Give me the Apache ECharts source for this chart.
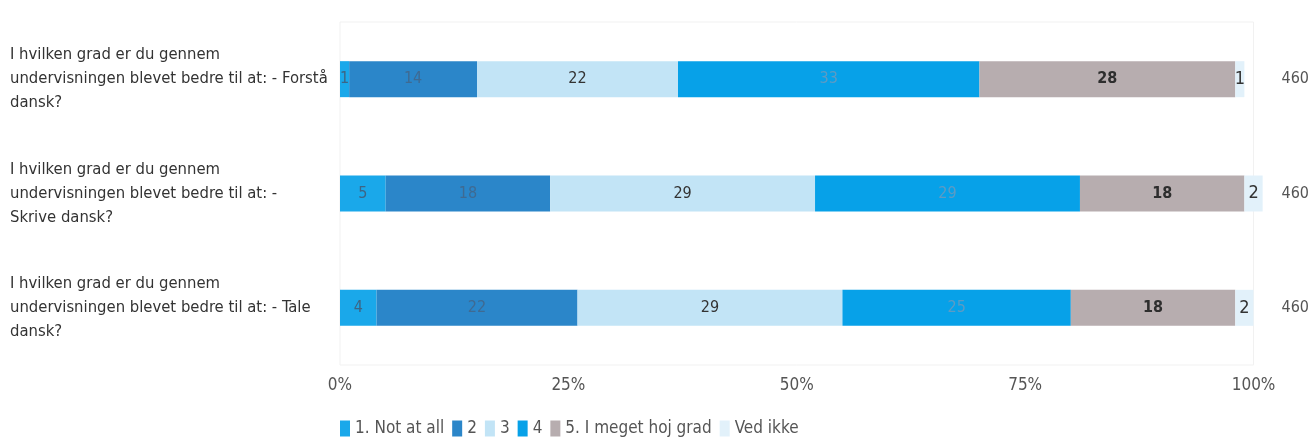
<!DOCTYPE html>
<html>
<head>
<meta charset="utf-8">
<script src="https://cdn.jsdelivr.net/npm/echarts@6/dist/echarts.min.js"></script>
<style>
  html, body { margin: 0; padding: 0; background: #fff; }
  #chart { width: 1312px; height: 441px; }
</style>
</head>
<body>
<div id="chart"></div>
<script>
// Survey questions (one per bar row)
const categories = [
  "I hvilken grad er du gennem\nundervisningen blevet bedre til at: - Forstå\ndansk?",
  "I hvilken grad er du gennem\nundervisningen blevet bedre til at: -\nSkrive dansk?",
  "I hvilken grad er du gennem\nundervisningen blevet bedre til at: - Tale\ndansk?"
];
// Answer options
const answerNames = ["1. Not at all", "2", "3", "4", "5. I meget hoj grad", "Ved ikke"];
// Share of respondents (%) per answer option, one value per question
const notAtAll = [1, 5, 4];
const two = [14, 18, 22];
const three = [22, 29, 29];
const four = [33, 29, 25];
const veryHigh = [28, 18, 18];
const dontKnow = [1, 2, 2];
// Number of respondents per question
const counts = [460, 460, 460];
// Value-axis ticks
const tickValues = [0, 25, 50, 75, 100];

const FONT = '"Liberation Sans Narrow", "DejaVu Sans Condensed", "Roboto Condensed", sans-serif';
const colors = ["#1aa8ea", "#2b86c9", "#c2e4f6", "#07a1e8", "#b7adaf", "#e2f1fa"];
const labelColors = ["#3d6585", "#3f6a92", "#333333", "#5d9bc4", "#2e2e2e", "#333333"];
const seriesValues = [notAtAll, two, three, four, veryHigh, dontKnow];

const chart = echarts.init(document.getElementById('chart'), null, { renderer: 'canvas' });

const series = seriesValues.map((vals, i) => ({
  name: answerNames[i],
  type: 'bar',
  stack: 'total',
  barWidth: 36,
  clip: false,
  data: vals,
  itemStyle: { color: colors[i] },
  label: {
    show: true,
    position: 'inside',
    formatter: '{c}',
    color: labelColors[i],
    fontFamily: FONT,
    fontSize: i === 5 ? 18 : 16,
    fontWeight: i === 4 ? 'bold' : 'normal'
  },
  emphasis: { disabled: true }
}));

chart.setOption({
  animation: false,
  textStyle: { fontFamily: FONT },
  grid: {
    left: 340, right: 57, top: 22, bottom: 76,
    show: true, borderColor: '#f1f1f1', borderWidth: 1, backgroundColor: 'transparent'
  },
  legend: {
    left: 335, top: 415,
    itemWidth: 10, itemHeight: 16, itemGap: 8,
    icon: 'rect',
    data: answerNames,
    textStyle: { fontFamily: FONT, fontSize: 17, color: '#555' }
  },
  xAxis: {
    type: 'value',
    min: 0, max: 100, interval: 25,
    axisLine: { show: false },
    axisTick: { show: false },
    splitLine: { show: false },
    axisLabel: {
      margin: 12,
      formatter: v => tickValues.includes(v) ? v + '%' : '',
      color: '#555', fontFamily: FONT, fontSize: 17
    }
  },
  yAxis: [
    {
      type: 'category',
      inverse: true,
      data: categories,
      axisLine: { show: false },
      axisTick: { show: false },
      axisLabel: {
        align: 'left',
        margin: 330,
        padding: [0, 0, 16, 0],
        lineHeight: 24,
        color: '#333', fontFamily: FONT, fontSize: 16.5
      }
    },
    {
      type: 'category',
      inverse: true,
      position: 'right',
      data: counts.map(String),
      axisLine: { show: false },
      axisTick: { show: false },
      axisLabel: {
        align: 'left',
        margin: 28,
        color: '#555', fontFamily: FONT, fontSize: 16
      }
    }
  ],
  series: series
});
</script>
</body>
</html>
